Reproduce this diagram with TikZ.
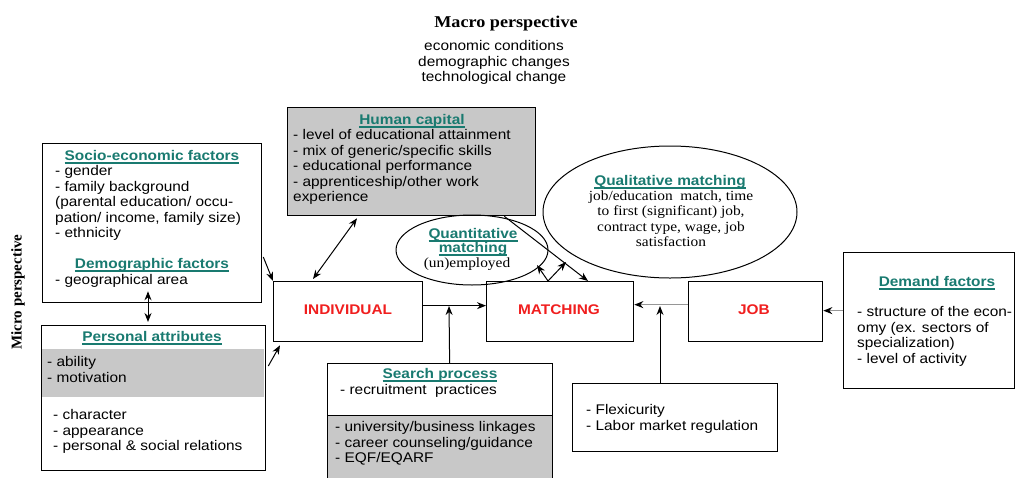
\documentclass[tikz,border=0pt]{standalone}
\usepackage{fontspec}
\setmainfont{Liberation Sans}[FakeStretch=1.1]
\newfontfamily\serifx{Liberation Serif}[FakeStretch=1.1]
\newfontfamily\serifm{Liberation Serif}
\usetikzlibrary{arrows.meta,shapes.geometric,calc}
\definecolor{tl}{RGB}{25,122,112}
\definecolor{rd}{RGB}{240,30,30}
\definecolor{gf}{RGB}{200,200,200}
\definecolor{gl}{RGB}{150,150,150}
\newcommand\ttl[1]{{\color{tl}\bfseries\setbox0\hbox{#1}\rlap{\vrule height -1.6pt depth 3.0pt width \wd0}\box0}}
\tikzset{
  box/.style={draw, line width=1.3pt, anchor=north west, inner sep=0pt},
  band/.style={fill=gf, anchor=north west, inner sep=0pt},
  txt/.style={inner sep=0pt, font=\fontsize{14}{15.5}\selectfont},
  blk/.style={txt, align=left, anchor=north west},
  sblk/.style={inner sep=0pt, font=\fontsize{14}{15.5}\selectfont\serifx, align=center, anchor=north},
  ttlnode/.style={txt, anchor=base},
  big/.style={inner sep=0pt, anchor=base, font=\fontsize{14}{15.5}\selectfont\bfseries\color{rd}},
  oval/.style={draw, ellipse, line width=1pt, inner sep=0pt},
  arr/.style={line width=1pt, -{Stealth[length=9pt,width=7pt]}},
  darr/.style={line width=1pt, {Stealth[length=9pt,width=7pt]}-{Stealth[length=9pt,width=7pt]}},
  garr/.style={line width=1.6pt, draw=gl, -{Stealth[length=9pt,width=7pt,color=black]}},
}
\begin{document}
\begin{tikzpicture}[x=1pt,y=-1pt]
\useasboundingbox (0,0) rectangle (1020,477);
\clip (0,0) rectangle (1020,477);

% macro / micro perspective
\node[inner sep=0pt, anchor=base, font=\fontsize{16.5}{18}\selectfont\serifx\bfseries] (macro) at (506,27) {Macro perspective};
\node[txt, align=center, anchor=north] (macrol) at (494,39.75) {\strut economic conditions\\demographic changes\\technological change};
\node[inner sep=0pt, rotate=90, font=\fontsize{15}{17}\selectfont\serifm\bfseries] (micro) at (18,292) {Micro perspective};

% socio-economic box
\node[box, minimum width=219, minimum height=159] (socio) at (42,143) {};
\node[ttlnode] (sociot) at (152,160.6) {\ttl{Socio-economic factors}};
\node[blk] (sociol) at (55,164.75) {\strut - gender\\- family background\\(parental education/ occu-\\pation/ income, family size)\\- ethnicity};
\node[ttlnode] (demot) at (152,268.6) {\ttl{Demographic factors}};
\node[txt, anchor=base west] (demol) at (55,284.6) {- geographical area};

% personal attributes
\node[band, minimum width=222, minimum height=48] (persband) at (42,349) {};
\node[box, minimum width=224, minimum height=145] (pers) at (41,325) {};
\node[ttlnode] (perst) at (152,341.6) {\ttl{Personal attributes}};
\node[blk] (persl1) at (47,355.75) {\strut - ability\\- motivation};
\node[blk] (persl2) at (53,408.75) {\strut - character\\- appearance\\- personal \& social relations};

% human capital
\node[box, fill=gf, minimum width=248, minimum height=108] (hc) at (287,107) {};
\node[ttlnode] (hct) at (412,124.6) {\ttl{Human capital}};
\node[blk] (hcl) at (293,128.75) {\strut - level of educational attainment\\- mix of generic/specific skills\\- educational performance\\- apprenticeship/other work\\experience};

% ellipses
\node[oval, minimum width=152, minimum height=70] (quant) at (472,250) {};
\node[ttlnode] (quantt1) at (473,238.6) {\ttl{Quantitative}};
\node[ttlnode] (quantt2) at (473,252.6) {\ttl{matching}};
\node[inner sep=0pt, anchor=base, font=\fontsize{14}{15.5}\selectfont\serifx] (quantl) at (467,267.4) {(un)employed};

\node[oval, minimum width=254, minimum height=132] (qual) at (670,212) {};
\node[ttlnode] (qualt) at (670,185.6) {\ttl{Qualitative matching}};
\node[sblk] (quall) at (671,189.25) {\strut job/education\ \ match, time\\to first (significant) job,\\contract type, wage, job\\satisfaction};

% main boxes
\node[box, minimum width=149, minimum height=60] (ind) at (273,281) {};
\node[big] (indt) at (348,314) {INDIVIDUAL};
\node[box, minimum width=147, minimum height=60] (match) at (486,281) {};
\node[big] (matcht) at (559,314) {MATCHING};
\node[box, minimum width=134, minimum height=60] (job) at (688,281) {};
\node[big] (jobt) at (754,314.5) {JOB};

% demand factors
\node[box, minimum width=171, minimum height=136] (dem) at (843,252) {};
\node[ttlnode] (demt) at (937,286.6) {\ttl{Demand factors}};
\node[blk] (deml) at (857,305.75) {\strut - structure of the econ-\\omy (ex. sectors of\\specialization)\\- level of activity};

% search process
\node[box, minimum width=225, minimum height=52] (search) at (327,363) {};
\node[box, fill=gf, minimum width=225, minimum height=70] (searchb) at (327,415) {};
\node[ttlnode] (searcht) at (440,378.6) {\ttl{Search process}};
\node[txt, anchor=base west] (searchl) at (340,394.6) {- recruitment\ \ practices};
\node[blk] (searchbl) at (335,420.75) {\strut - university/business linkages\\- career counseling/guidance\\- EQF/EQARF};

% flexicurity
\node[box, minimum width=205, minimum height=68] (flex) at (572,383) {};
\node[blk] (flexl) at (586,403.75) {\strut - Flexicurity\\- Labor market regulation};

% junction coordinates
\coordinate (vpt) at ($(match.north west)+(62,0)$);
\coordinate (qtip) at (537,265);
\coordinate (qltip) at (566,262);
\coordinate (sj) at (449,306);
\coordinate (fj) at (660,306);

% connectors
\draw[arr] ($(socio.north east)+(1,114)$) -- (ind.north west);
\draw[arr] ($(pers.north east)+(2,41)$) -- ($(ind.south west)+(7,3)$);
\draw[darr] ($(hc.south west)+(70,2)$) -- ($(ind.north west)+(40,-2)$);
\draw[darr] ($(socio.south west)+(106,-12)$) -- ($(pers.north west)+(107,-3)$);
\draw[arr] ($(hc.south east)+(-32,0)$) -- ($(match.north west)+(102,0)$);
\draw[arr] (vpt) -- (qtip);
\draw[arr] (vpt) -- (qltip);
\draw[arr] ($(ind.east)+(0,-6)$) -- ($(match.west)+(0,-6)$);
\draw[arr] ($(search.north)+(9.5,0)$) -- (sj);
\draw[garr] ($(job.west)+(0,-7)$) -- ($(match.east)+(0,-7)$);
\draw[arr] ($(flex.north west)+(88,0)$) -- (fj);
\draw[garr] ($(dem.west)+(0,-10)$) -- ($(job.east)+(0,-1)$);
\end{tikzpicture}
\end{document}
